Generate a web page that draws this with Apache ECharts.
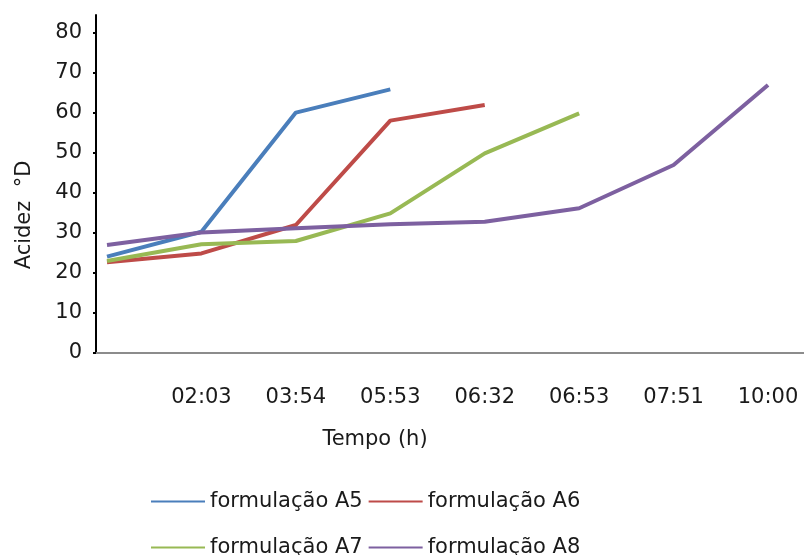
<!DOCTYPE html>
<html>
<head>
<meta charset="utf-8">
<script src="https://cdn.jsdelivr.net/npm/echarts@6/dist/echarts.min.js"></script>
<style>html,body{margin:0;padding:0;background:#fff}#c{width:804px;height:555px}</style>
</head>
<body>
<div id="c"></div>
<script>
var categories = ['', '02:03', '03:54', '05:53', '06:32', '06:53', '07:51', '10:00'];
var seriesNames = ['formulação A5', 'formulação A6', 'formulação A7', 'formulação A8'];
var a5 = [24.1, 30.3, 60.1, 65.9];
var a6 = [22.7, 24.9, 32.0, 58.1, 62.0];
var a7 = [23.0, 27.2, 28.0, 34.9, 49.9, 59.9];
var a8 = [27.0, 30.1, 31.2, 32.2, 32.8, 36.2, 47.0, 67.0];
var yTicks = [0, 10, 20, 30, 40, 50, 60, 70, 80];
var colors = ['#4A7EBB', '#BE4B48', '#98B954', '#7D60A0'];

function pairs(arr) { return arr.map(function (v, i) { return [i, v]; }); }
var xIdx = categories.map(function (c, i) { return i; });
var font = 'DejaVu Sans';

var chart = echarts.init(document.getElementById('c'), null, {renderer: 'canvas'});
chart.setOption({
  animation: false,
  color: colors,
  grid: {left: 96, right: 0, top: 15, bottom: 202, containLabel: false},
  xAxis: {
    type: 'value', min: -0.1165, max: 7.381,
    splitLine: {show: false},
    axisLine: {show: true, onZero: false, lineStyle: {color: '#8c8c8c', width: 2}},
    axisTick: {show: false},
    axisLabel: {
      customValues: xIdx.slice(1), margin: 34,
      fontFamily: font, fontSize: 21, color: '#1a1a1a',
      formatter: function (v) { return categories[Math.round(v)]; }
    }
  },
  yAxis: {
    type: 'value', min: 0, max: 84.5,
    splitLine: {show: false},
    axisLine: {show: true, onZero: false, lineStyle: {color: '#000', width: 2}},
    axisTick: {show: true, customValues: yTicks, length: 3, lineStyle: {color: '#000', width: 2}},
    axisLabel: {customValues: yTicks, margin: 14, fontFamily: font, fontSize: 21, color: '#1a1a1a'}
  },
  legend: [
    {data: seriesNames.slice(0, 2), left: 146, top: 486, itemWidth: 54, itemHeight: 20, itemGap: 6,
     textStyle: {fontFamily: font, fontSize: 21, color: '#1a1a1a'}, icon: 'path://M0,9 L54,9 L54,11 L0,11 Z'},
    {data: seriesNames.slice(2, 4), left: 146, top: 532, itemWidth: 54, itemHeight: 20, itemGap: 6,
     textStyle: {fontFamily: font, fontSize: 21, color: '#1a1a1a'}, icon: 'path://M0,9 L54,9 L54,11 L0,11 Z'}
  ],
  graphic: [
    {type: 'text', x: 375, y: 440, style: {text: 'Tempo (h)', fontFamily: font, fontSize: 21, fill: '#1a1a1a', align: 'center', verticalAlign: 'middle'}},
    {type: 'text', x: 25, y: 215, rotation: Math.PI / 2, style: {text: 'Acidez  °D', fontFamily: font, fontSize: 21, fill: '#1a1a1a', align: 'center', verticalAlign: 'middle'}}
  ],
  series: [a5, a6, a7, a8].map(function (arr, k) {
    return {
      name: seriesNames[k], type: 'line', data: pairs(arr),
      symbol: 'none', lineStyle: {width: 4, color: colors[k]}, itemStyle: {color: colors[k]}
    };
  })
});
</script>
</body>
</html>
